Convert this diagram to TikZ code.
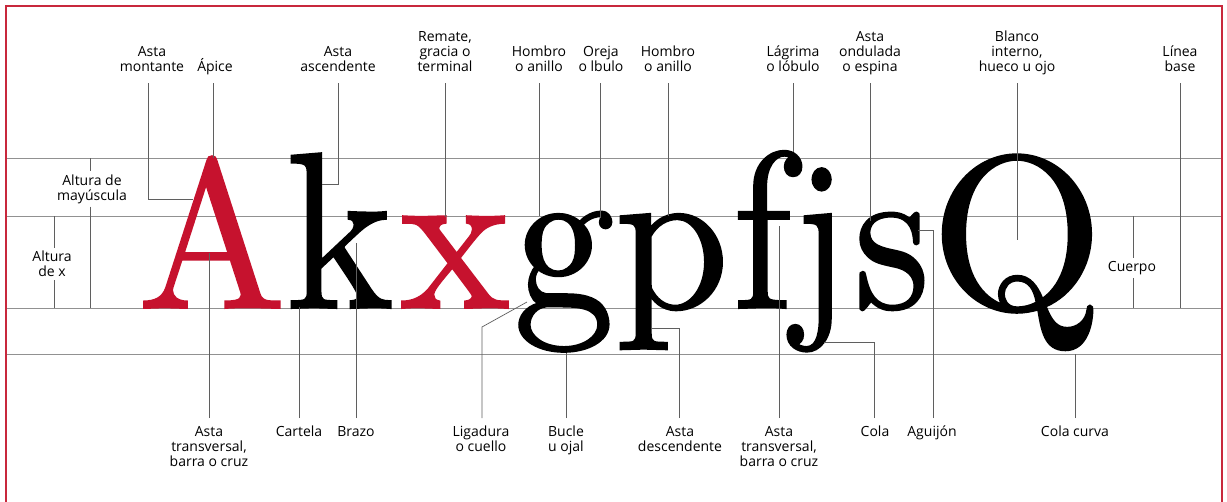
\documentclass[tikz,border=0pt]{standalone}
\usepackage{fontspec}
\usepackage{graphicx}
\newfontfamily\labelfont{Open Sans}
\newfontfamily\glyphfont{lmroman10-regular.otf}[FakeBold=0.9]
\definecolor{typered}{RGB}{198,18,46}
\definecolor{framered}{RGB}{200,40,60}
\definecolor{guidegray}{RGB}{145,145,145}
\definecolor{leadergray}{RGB}{95,95,95}
\newcommand\glyphbox[3]{\scalebox{#1}[#2]{#3}}
\tikzset{
  guide/.style={draw=guidegray, line width=0.8pt},
  leader/.style={draw=leadergray, line width=0.7pt},
  lblfont/.style={font=\labelfont\fontsize{14}{15}\selectfont, align=center, inner sep=0pt},
  toplabel/.style={lblfont, anchor=south, text depth=0pt, outer ysep=12pt},
  botlabel/.style={lblfont, anchor=north, outer ysep=8pt},
  sidelabel/.style={lblfont, inner ysep=3pt},
  glyph/.style={anchor=base, inner sep=0pt, font=\glyphfont\fontsize{100}{100}\selectfont},
}
\begin{document}
\begin{tikzpicture}[x=1pt,y=-1pt]
\useasboundingbox (0,0) rectangle (1227,501);
\fill[white] (0,0) rectangle (1227,501);
% frame
\draw[framered, line width=2pt] (6,530) -- (6,6) -- (1222,6) -- (1222,530);
% guide lines
\coordinate (gl1) at (7,158);  \coordinate (gr1) at (1221,158);
\coordinate (gl2) at (7,216);  \coordinate (gr2) at (1221,216);
\coordinate (gl3) at (7,308);  \coordinate (gr3) at (1221,308);
\coordinate (gl4) at (7,354);  \coordinate (gr4) at (1221,354);
\draw[guide] (gl1) -- (gr1);
\draw[guide] (gl2) -- (gr2);
\draw[guide] (gl3) -- (gr3);
\draw[guide] (gl4) -- (gr4);

% big letters
\node[glyph, text=typered] (gA) at (212,308) {\glyphbox{1.98}{2.12}{A}};
\node[glyph] (gk) at (340,308) {\glyphbox{2.05}{2.23}{k}};
\node[glyph, text=typered] (gx) at (455,308) {\glyphbox{2.1}{2.13}{x}};
\node[glyph] (gg) at (564,308) {\glyphbox{2.02}{2.13}{g}};
\node[glyph] (gp) at (672,308) {\glyphbox{2.06}{2.13}{p}};
\node[glyph] (gf) at (762,308) {\glyphbox{1.94}{2.23}{f}};
\node[glyph] (gj) at (821,308) {\glyphbox{1.75}{2.13}{j}};
\node[glyph] (gs) at (892,308) {\glyphbox{1.94}{2.13}{s}};
\node[glyph] (gQ) at (1017,308) {\glyphbox{2.23}{2.18}{Q}};

% top labels
\node[toplabel] (t1) at (152,83) {Asta\\montante};
\node[toplabel] (t2) at (215,83) {Ápice};
\node[toplabel] (t3) at (338,83) {Asta\\ascendente};
\node[toplabel] (t4) at (445,83) {Remate,\\gracia o\\terminal};
\node[toplabel] (t5) at (539,83) {Hombro\\o anillo};
\node[toplabel] (t6) at (601,83) {Oreja\\o lbulo};
\node[toplabel] (t7) at (668,83) {Hombro\\o anillo};
\node[toplabel] (t8) at (793,83) {Lágrima\\o lóbulo};
\node[toplabel] (t9) at (870,83) {Asta\\ondulada\\o espina};
\node[toplabel] (t10) at (1017,83) {Blanco\\interno,\\hueco u ojo};
\node[toplabel] (t11) at (1180,83) {Línea\\base};

% top leader end points
\coordinate (a1x) at (148,0);
\coordinate (a1) at (193,199);
\coordinate (a2) at (213,158);
\coordinate (a3) at (322,184);
\coordinate (a4) at (445,217);
\coordinate (a5) at (539,216);
\coordinate (a6) at (600,218);
\coordinate (a7) at (668,216);
\coordinate (a8) at (793,152);
\coordinate (a9) at (870,221);
\coordinate (a10) at (1017,240);
\coordinate (a11) at (1180,308);

\draw[leader] (t1.south -| a1x) |- (a1);
\draw[leader] (t2.south -| a2) -- (a2);
\draw[leader] (t3.south) |- (a3);
\draw[leader] (t4.south) -- (a4);
\draw[leader] (t5.south) -- (a5);
\draw[leader] (t6.south -| a6) -- (a6);
\draw[leader] (t7.south) -- (a7);
\draw[leader] (t8.south) -- (a8);
\draw[leader] (t9.south) -- (a9);
\draw[leader] (t10.south) -- (a10);
\draw[leader] (t11.south) -- (a11);

% side labels
\node[sidelabel] (s1) at (92,189) {Altura de\\mayúscula};
\node[sidelabel] (s2) at (52,264) {Altura\\de x};
\node[sidelabel] (s3) at (1132,268) {Cuerpo};
\coordinate (c1t) at (90,158); \coordinate (c1b) at (90,308);
\coordinate (c2t) at (54,216); \coordinate (c2b) at (54,308);
\coordinate (c3t) at (1133,216); \coordinate (c3b) at (1133,308);
\draw[leader] (c1t) -- (c1t |- s1.north);
\draw[leader] (c1b |- s1.south) -- (c1b);
\draw[leader] (c2t) -- (c2t |- s2.north);
\draw[leader] (c2b |- s2.south) -- (c2b);
\draw[leader] (c3t) -- (c3t |- s3.north);
\draw[leader] (c3b |- s3.south) -- (c3b);

% bottom labels
\node[botlabel] (b1) at (209,418) {Asta\\transversal,\\barra o cruz};
\node[botlabel] (b2) at (299,418) {Cartela};
\node[botlabel] (b3) at (356,418) {Brazo};
\node[botlabel] (b4) at (481,418) {Ligadura\\o cuello};
\node[botlabel] (b5) at (566,418) {Bucle\\u ojal};
\node[botlabel] (b6) at (680,418) {Asta\\descendente};
\node[botlabel] (b7) at (779,418) {Asta\\transversal,\\barra o cruz};
\node[botlabel] (b8) at (875,418) {Cola};
\node[botlabel] (b9) at (932,418) {Aguijón};
\node[botlabel] (b10) at (1075,418) {Cola curva};

% bottom leader end points
\coordinate (d1) at (209,253);
\coordinate (d2) at (299,307);
\coordinate (d3) at (356,243);
\coordinate (d4k) at (482,327);
\coordinate (d4) at (527,302);
\coordinate (d5) at (566,353);
\coordinate (d6) at (652,328);
\coordinate (d7) at (779,226);
\coordinate (d8) at (824,342);
\coordinate (d9) at (918,230);
\coordinate (d10) at (1075,354);

\draw[leader] (b1.north) -- (d1);
\draw[leader] (b2.north) -- (d2);
\draw[leader] (b3.north) -- (d3);
\draw[leader] (b4.north -| d4k) -- (d4k) -- (d4);
\draw[leader] (b5.north) -- (d5);
\draw[leader] (b6.north -| 679,0) |- (d6);
\draw[leader] (b7.north) -- (d7);
\draw[leader] (b8.north -| 874,0) |- (d8);
\draw[leader] (b9.north -| 933,0) |- (d9);
\draw[leader] (b10.north) -- (d10);
\end{tikzpicture}
\end{document}
